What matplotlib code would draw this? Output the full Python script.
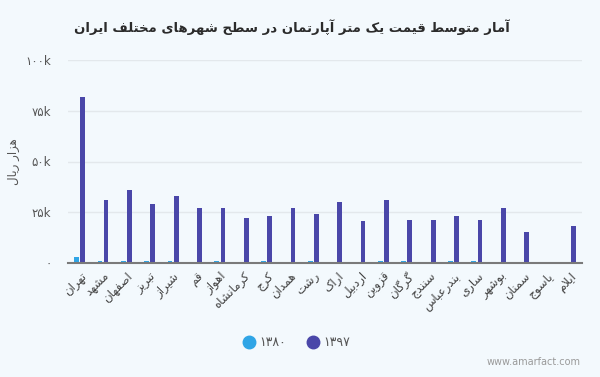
import matplotlib
matplotlib.use("Agg")
import matplotlib.pyplot as plt
from matplotlib.lines import Line2D
import numpy as np

# ---------------- data ----------------
cities = ["تهران", "مشهد", "اصفهان", "تبریز", "شیراز", "قم", "اهواز", "کرمانشاه",
          "کرج", "همدان", "رشت", "اراک", "اردبیل", "قزوین", "گرگان", "سنندج",
          "بندرعباس", "ساری", "بوشهر", "سمنان", "یاسوج", "ایلام"]
values_1380 = [3.0, 0.8, 0.9, 0.8, 0.9, 0.4, 0.8, 0.4, 0.9, 0.4, 0.9, 0.4,
               0.4, 0.9, 0.9, 0.4, 0.9, 0.9, 0.4, 0.4, 0.3, 0.3]
values_1397 = [82, 31, 36, 29, 33, 27, 27, 22, 23, 27, 24, 30,
               20.5, 31, 21, 21, 23, 21, 27, 15.5, 0, 18]
series_labels = ["۱۳۸۰", "۱۳۹۷"]
ytick_values = [0, 25, 50, 75, 100]
ytick_labels = ["۰", "۲۵k", "۵۰k", "۷۵k", "۱۰۰k"]
title = "آمار متوسط قیمت یک متر آپارتمان در سطح شهرهای مختلف ایران"
ylabel = "هزار ریال"
watermark = "www.amarfact.com"

# ------------- minimal Persian shaping (matplotlib has no RTL / joining) -------------
FORMS = {
    'ا': (0xFE8D, 0xFE8E, None, None), 'آ': (0xFE81, 0xFE82, None, None),
    'ب': (0xFE8F, 0xFE90, 0xFE91, 0xFE92), 'پ': (0xFB56, 0xFB57, 0xFB58, 0xFB59),
    'ت': (0xFE95, 0xFE96, 0xFE97, 0xFE98), 'ث': (0xFE99, 0xFE9A, 0xFE9B, 0xFE9C),
    'ج': (0xFE9D, 0xFE9E, 0xFE9F, 0xFEA0), 'چ': (0xFB7A, 0xFB7B, 0xFB7C, 0xFB7D),
    'ح': (0xFEA1, 0xFEA2, 0xFEA3, 0xFEA4), 'خ': (0xFEA5, 0xFEA6, 0xFEA7, 0xFEA8),
    'د': (0xFEA9, 0xFEAA, None, None), 'ذ': (0xFEAB, 0xFEAC, None, None),
    'ر': (0xFEAD, 0xFEAE, None, None), 'ز': (0xFEAF, 0xFEB0, None, None),
    'ژ': (0xFB8A, 0xFB8B, None, None),
    'س': (0xFEB1, 0xFEB2, 0xFEB3, 0xFEB4), 'ش': (0xFEB5, 0xFEB6, 0xFEB7, 0xFEB8),
    'ص': (0xFEB9, 0xFEBA, 0xFEBB, 0xFEBC), 'ض': (0xFEBD, 0xFEBE, 0xFEBF, 0xFEC0),
    'ط': (0xFEC1, 0xFEC2, 0xFEC3, 0xFEC4), 'ظ': (0xFEC5, 0xFEC6, 0xFEC7, 0xFEC8),
    'ع': (0xFEC9, 0xFECA, 0xFECB, 0xFECC), 'غ': (0xFECD, 0xFECE, 0xFECF, 0xFED0),
    'ف': (0xFED1, 0xFED2, 0xFED3, 0xFED4), 'ق': (0xFED5, 0xFED6, 0xFED7, 0xFED8),
    'ک': (0xFB8E, 0xFB8F, 0xFB90, 0xFB91), 'گ': (0xFB92, 0xFB93, 0xFB94, 0xFB95),
    'ل': (0xFEDD, 0xFEDE, 0xFEDF, 0xFEE0), 'م': (0xFEE1, 0xFEE2, 0xFEE3, 0xFEE4),
    'ن': (0xFEE5, 0xFEE6, 0xFEE7, 0xFEE8), 'و': (0xFEED, 0xFEEE, None, None),
    'ه': (0xFEE9, 0xFEEA, 0xFEEB, 0xFEEC), 'ی': (0xFBFC, 0xFBFD, 0xFBFE, 0xFBFF),
}
LAM_ALEF = {'ا': (0xFEFB, 0xFEFC), 'آ': (0xFEF5, 0xFEF6)}


def fa(text):
    chars = list(text)
    n = len(chars)
    dual = lambda c: c in FORMS and FORMS[c][2] is not None
    res = []
    i = 0
    while i < n:
        c = chars[i]
        if c not in FORMS:
            res.append(c)
            i += 1
            continue
        prev = chars[i - 1] if i > 0 else None
        conn_prev = prev is not None and dual(prev)
        if c == 'ل' and i + 1 < n and chars[i + 1] in LAM_ALEF:
            lig = LAM_ALEF[chars[i + 1]]
            res.append(chr(lig[1] if conn_prev else lig[0]))
            i += 2
            continue
        nxt = chars[i + 1] if i + 1 < n else None
        conn_next = dual(c) and nxt is not None and nxt in FORMS
        iso, fin, ini, med = FORMS[c]
        if conn_prev and conn_next:
            f = med
        elif conn_prev:
            f = fin
        elif conn_next:
            f = ini
        else:
            f = iso
        res.append(chr(f))
        i += 1
    return ''.join(res)[::-1]


# ---------------- plot ----------------
plt.rcParams['font.family'] = ['DejaVu Sans']
BG = "#f3f9fd"
C1380 = "#2fa5e6"
C1397 = "#4a47a9"

fig = plt.figure(figsize=(6.0, 3.77), dpi=100, facecolor=BG)
ax = fig.add_axes([68 / 600, 1 - 263 / 377, (582 - 68) / 600, (263 - 60) / 377])
ax.set_facecolor(BG)

x = np.arange(len(cities))
off = 0.13
w = 0.2
ax.bar(x - off, values_1380, width=w, color=C1380, linewidth=0, zorder=3)
ax.bar(x + off, values_1397, width=w, color=C1397, linewidth=0, zorder=3)

ax.set_xlim(-0.5, len(cities) - 0.5)
ax.set_ylim(0, 100)
ax.set_yticks(ytick_values)
ax.set_yticklabels(ytick_labels, color="#555555", fontsize=8.5)
ax.yaxis.grid(True, color="#e3e8ec", linewidth=1, zorder=0)
ax.tick_params(axis='y', length=0, pad=12)
ax.tick_params(axis='x', length=0, pad=5)
ax.set_xticks(x)
ax.set_xticklabels([fa(c) for c in cities], rotation=45, ha='right', va='top',
                   rotation_mode='anchor', fontsize=8.5, color="#444444")
for s in ['top', 'right', 'left']:
    ax.spines[s].set_visible(False)
ax.spines['bottom'].set_color("#7a7a7a")
ax.spines['bottom'].set_linewidth(1.5)
ax.spines['bottom'].set_zorder(4)

ax.set_ylabel(fa(ylabel), color="#555555", fontsize=8.5)
ax.yaxis.set_label_coords((20 - 68) / 514, 0.5)

fig.text(292 / 600, 1 - 27 / 377, fa(title), ha='center', va='center',
         fontsize=9.5, fontweight='bold', color="#2b2b2b")

handles = [Line2D([], [], marker='o', linestyle='none', markersize=9,
                  markerfacecolor=C1380, markeredgecolor=C1380),
           Line2D([], [], marker='o', linestyle='none', markersize=9,
                  markerfacecolor=C1397, markeredgecolor=C1397)]
fig.legend(handles, series_labels, loc='center', bbox_to_anchor=(296 / 600, 1 - 343 / 377),
           ncol=2, frameon=False, fontsize=9, labelcolor="#555555",
           handletextpad=0.2, columnspacing=1.6, handlelength=1.2)

fig.text(581 / 600, 1 - 362 / 377, watermark, ha='right', va='center',
         fontsize=7, color="#9a9a9a")

fig.savefig("out.png", dpi=100, facecolor=BG)
